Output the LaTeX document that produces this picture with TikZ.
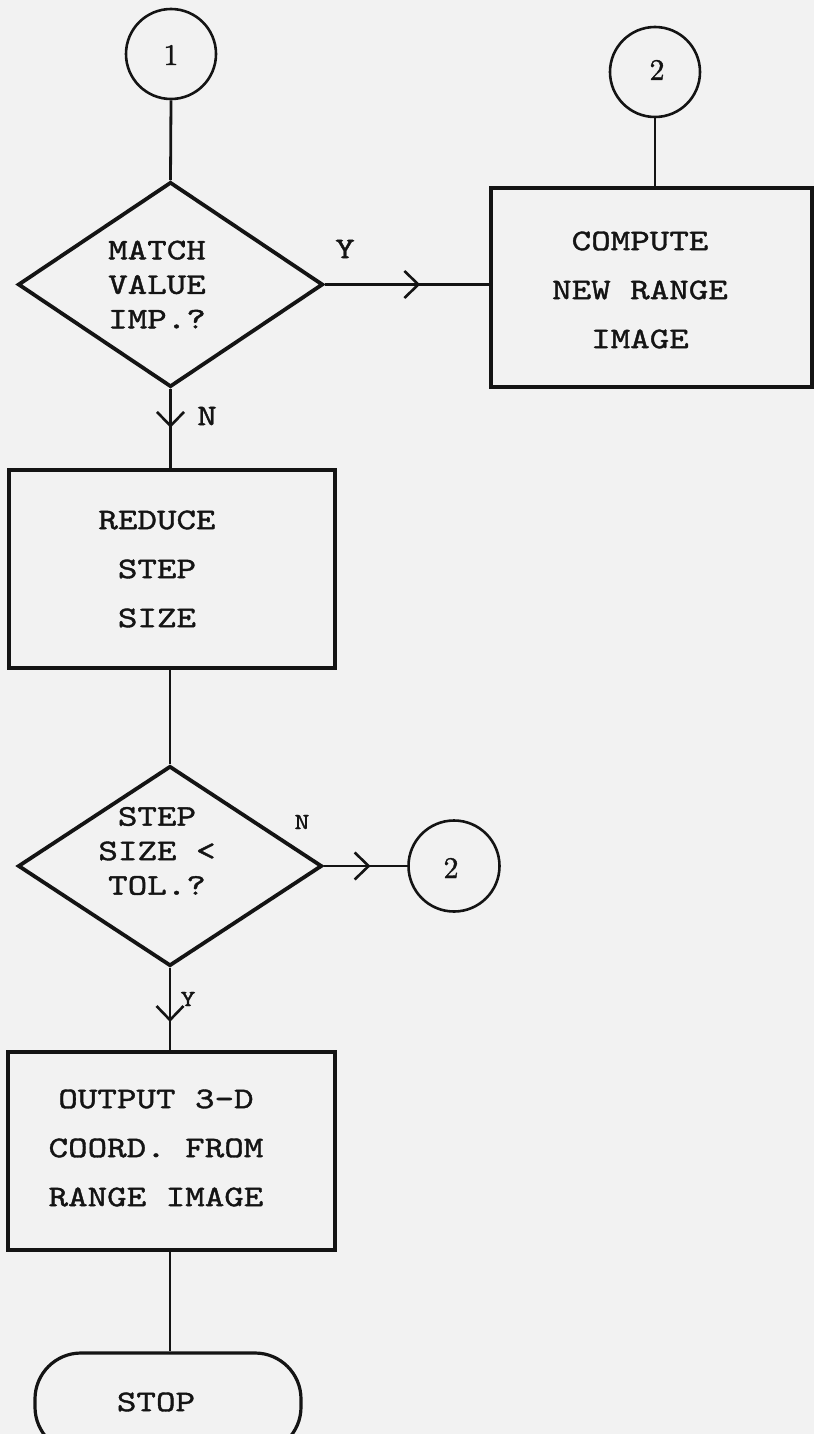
\documentclass[tikz,border=0pt]{standalone}
\usepackage{fontspec}
\newfontfamily\tw{lmmono10-regular.otf}[FakeStretch=1.24,FakeBold=1.3]
\newfontfamily\numfont{lmroman10-regular.otf}[FakeBold=1.2]
\usetikzlibrary{shapes.geometric,arrows.meta,decorations.markings}
\definecolor{paper}{RGB}{242,242,242}
\definecolor{ink}{RGB}{20,20,20}
\tikzset{
  conn/.style={draw=ink,line width=2.8bp},
  onum/.style={circle,draw=ink,line width=2.6bp,minimum size=90bp,inner sep=0pt},
  procbox/.style={rectangle,draw=ink,line width=3.4bp,inner sep=0pt},
  decide/.style={diamond,draw=ink,line width=3.8bp,inner sep=0pt,aspect=1.5},
  term/.style={rectangle,rounded corners=46bp,draw=ink,line width=3.2bp,inner sep=0pt},
  lbl/.style={text=ink,inner sep=0pt,align=center,font=\tw\fontsize{30bp}{49bp}\selectfont},
  lbltight/.style={lbl,font=\tw\fontsize{30bp}{34.5bp}\selectfont},
  yn/.style={text=ink,inner sep=0pt,font=\tw\fontsize{30bp}{30bp}\selectfont},
  ynsmall/.style={text=ink,inner sep=0pt,font=\tw\fontsize{23bp}{23bp}\selectfont},
  numtxt/.style={text=ink,inner sep=0pt,font=\numfont\fontsize{30bp}{30bp}\selectfont},
  midarrow/.style={postaction={decorate,decoration={markings,
    mark=at position #1 with {\arrow[ink,line width=2.6bp]{Straight Barb[length=14bp,width=27bp]}}}}}
}
\begin{document}
\begin{tikzpicture}[x=1bp,y=-1bp]
\fill[paper] (0,0) rectangle (814,1434);
\useasboundingbox (0,0) rectangle (814,1434);

% shapes
\node[onum] (c1) at (171,54) {};
\node[decide,minimum width=305bp,minimum height=205bp] (d1) at (170.5,284.5) {};
\node[onum] (c2) at (655,72) {};
\node[procbox,minimum width=321bp,minimum height=199bp] (b1) at (651.5,287.5) {};
\node[procbox,minimum width=326bp,minimum height=198bp] (b2) at (172,569) {};
\node[decide,minimum width=304bp,minimum height=200bp] (d2) at (170,866) {};
\node[onum,minimum size=91bp] (c3) at (454,866) {};
\node[procbox,minimum width=327bp,minimum height=198bp] (b3) at (171.5,1151) {};
\node[term,minimum width=266bp,minimum height=100bp] (stop) at (168,1403) {};

% texts
\node[numtxt] (n1) at (171,55) {1};
\node[numtxt] (n2) at (657,70) {2};
\node[numtxt] (n3) at (451,868) {2};
\node[lbltight] (t1) at (157,284.5) {MATCH\\VALUE\\IMP.?};
\node[lbl] (t2) at (640,290) {COMPUTE\\NEW RANGE\\IMAGE};
\node[lbl] (t3) at (157,569) {REDUCE\\STEP\\SIZE};
\node[lbltight] (t4) at (157,851) {STEP\\SIZE <\\TOL.?};
\node[lbl] (t5) at (156,1148) {OUTPUT 3-D\\COORD. FROM\\RANGE IMAGE};
\node[lbl] (t6) at (156,1402) {STOP};
\node[yn] (ly1) at (345,249) {Y};
\node[yn] (ln1) at (207,416) {N};
\node[ynsmall] (ln2) at (302,822) {N};
\node[ynsmall] (ly2) at (188,999) {Y};

% connectors
\draw[conn] (c1.south) -- (d1.north);
\draw[conn] (c2.south) -- (c2.south |- b1.north);
\draw[conn,midarrow=0.58] (d1.east) -- (b1.west |- d1.east);
\draw[conn,midarrow=0.49] (d1.south) -- (d1.south |- b2.north);
\draw[conn] (b2.south -| d2.north) -- (d2.north);
\draw[conn,midarrow=0.56] (d2.east) -- (c3.west);
\draw[conn,midarrow=0.655] (d2.south) -- (d2.south |- b3.north);
\draw[conn] (b3.south -| d2.south) -- (stop.north -| d2.south);
\end{tikzpicture}
\end{document}
